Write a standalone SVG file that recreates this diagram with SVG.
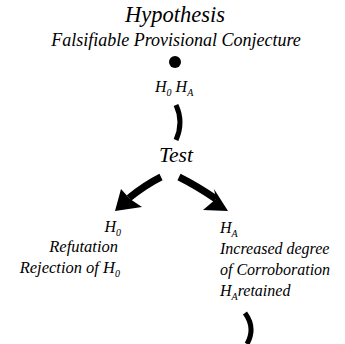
<svg xmlns="http://www.w3.org/2000/svg" width="345" height="344" viewBox="0 0 345 344">
<style>
.t{font-family:'Liberation Serif','Times New Roman','DejaVu Serif',serif;font-style:italic;fill:#000}
</style>
<rect width="345" height="344" fill="#fff"/>
<g id="hypothesis">
<text class="t" x="175" y="22" text-anchor="middle" font-family="'Liberation Serif', 'Times New Roman', serif" font-size="22.5">Hypothesis</text>
<text class="t" x="176" y="46" text-anchor="middle" font-family="'Liberation Serif', 'Times New Roman', serif" font-size="18">Falsifiable Provisional Conjecture</text>
<circle cx="175" cy="62" r="6" fill="#000"/>
<text class="t" x="155" y="92" font-family="'Liberation Serif', 'Times New Roman', serif" font-size="16">H<tspan font-size="10" dy="4">0</tspan><tspan dy="-4">  H</tspan><tspan font-size="10" dy="4">A</tspan></text>
</g>
<g id="test">
<text class="t" x="176" y="162" text-anchor="middle" font-family="'Liberation Serif', 'Times New Roman', serif" font-size="21.5">Test</text>
</g>
<g id="refutation">
<text class="t" x="121" y="232" text-anchor="end" font-family="'Liberation Serif', 'Times New Roman', serif" font-size="16">H<tspan font-size="10" dy="4">0</tspan></text>
<text class="t" x="118" y="252" text-anchor="end" font-family="'Liberation Serif', 'Times New Roman', serif" font-size="16.5">Refutation</text>
<text class="t" x="120" y="273" text-anchor="end" font-family="'Liberation Serif', 'Times New Roman', serif" font-size="16.5">Rejection of H<tspan font-size="10" dy="4">0</tspan></text>
</g>
<g id="corroboration">
<text class="t" x="220" y="233" font-family="'Liberation Serif', 'Times New Roman', serif" font-size="16">H<tspan font-size="10" dy="4">A</tspan></text>
<text class="t" x="220" y="254" font-family="'Liberation Serif', 'Times New Roman', serif" font-size="16">Increased degree</text>
<text class="t" x="220" y="275" font-family="'Liberation Serif', 'Times New Roman', serif" font-size="16">of Corroboration</text>
<text class="t" x="220" y="296" font-family="'Liberation Serif', 'Times New Roman', serif" font-size="16">H<tspan font-size="10" dy="4">A</tspan><tspan dy="-4">retained</tspan></text>
</g>
<g id="connectors" fill="none" stroke="#000">
<path d="M176,105 Q184,122 176,140" stroke-width="5"/>
<path d="M161,177 Q145,185 129,198" stroke-width="7"/>
<polygon points="115,211 121,189 130,199 142,207" fill="#000" stroke="none"/>
<path d="M179,177 Q197,186 216,199" stroke-width="7"/>
<polygon points="228,211 214,189 216,199 203,210" fill="#000" stroke="none"/>
<path d="M245,313 Q256,328 247,344" stroke-width="5"/>
</g>
</svg>
